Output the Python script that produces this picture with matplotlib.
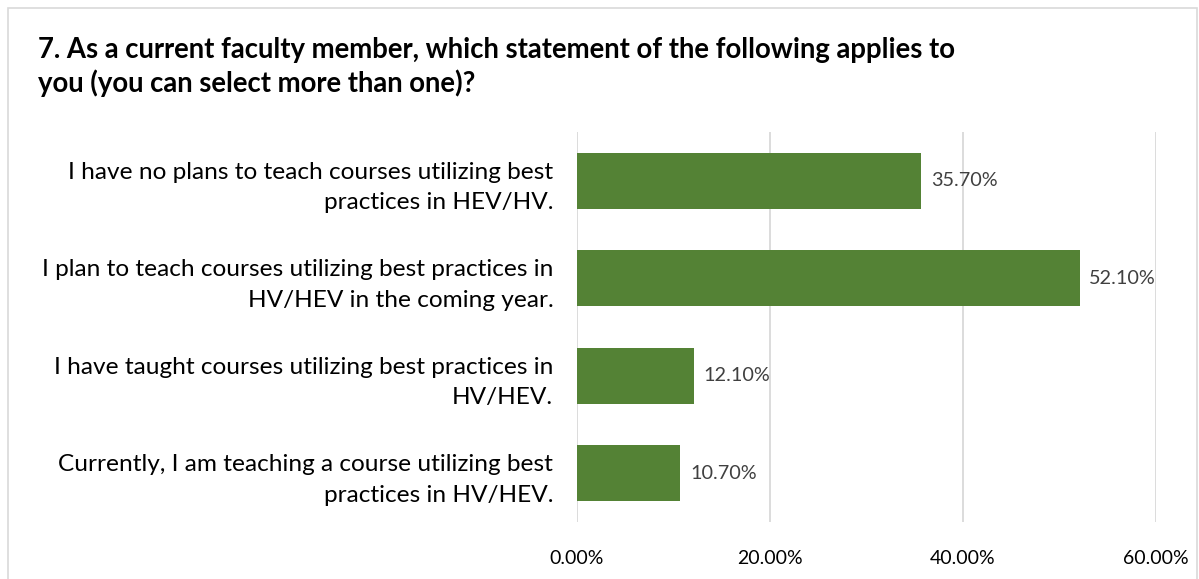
import matplotlib.pyplot as plt
from matplotlib.patches import Rectangle

####################
# Data
categories = [
    "I have no plans to teach courses utilizing best\npractices in HEV/HV.",
    "I plan to teach courses utilizing best practices in\nHV/HEV in the coming year.",
    "I have taught courses utilizing best practices in\nHV/HEV.",
    "Currently, I am teaching a course utilizing best\npractices in HV/HEV.",
]
values = [35.7, 52.1, 12.1, 10.7]
xticks = [0, 20, 40, 60]
title = "7. As a current faculty member, which statement of the following applies to\nyou (you can select more than one)?"

####################
# Plot
plt.rcParams['font.family'] = ['Lato', 'DejaVu Sans']

fig = plt.figure(figsize=(11.99, 5.79), dpi=100)
ax = fig.add_axes([0.4812, 0.0984, 0.4829, 0.6736])

y = range(len(categories))
ax.barh(y, values, height=0.57, color='#548235', zorder=3)
ax.set_ylim(len(categories) - 0.5, -0.5)
ax.set_xlim(0, 60)

for i, v in enumerate(values):
    ax.text(v + 1.0, i, f"{v:.2f}%", va='center', ha='left',
            fontsize=14.3, color='#404040', zorder=4)

ax.set_yticks(list(y))
ax.set_yticklabels(categories, fontsize=17.6, color='#000000', linespacing=1.55)
ax.set_xticks(xticks)
ax.set_xticklabels([f"{t:.2f}%" for t in xticks], fontsize=14, color='#000000')
ax.tick_params(axis='both', length=0)
ax.tick_params(axis='y', pad=17)
ax.tick_params(axis='x', pad=20)

ax.grid(axis='x', color='#d9d9d9', linewidth=1.3, zorder=0)
for s in ax.spines.values():
    s.set_visible(False)

fig.text(38 / 1199, 1 - 67 / 579, title, fontsize=19.8, fontweight='bold',
         va='center', ha='left', linespacing=1.3)

fig.patches.append(Rectangle((8 / 1199, -0.01), 1189 / 1199, 1 - 8 / 579 + 0.01,
                             transform=fig.transFigure, fill=False,
                             edgecolor='#d9d9d9', linewidth=1.2))

fig.savefig('out.png', dpi=100)
